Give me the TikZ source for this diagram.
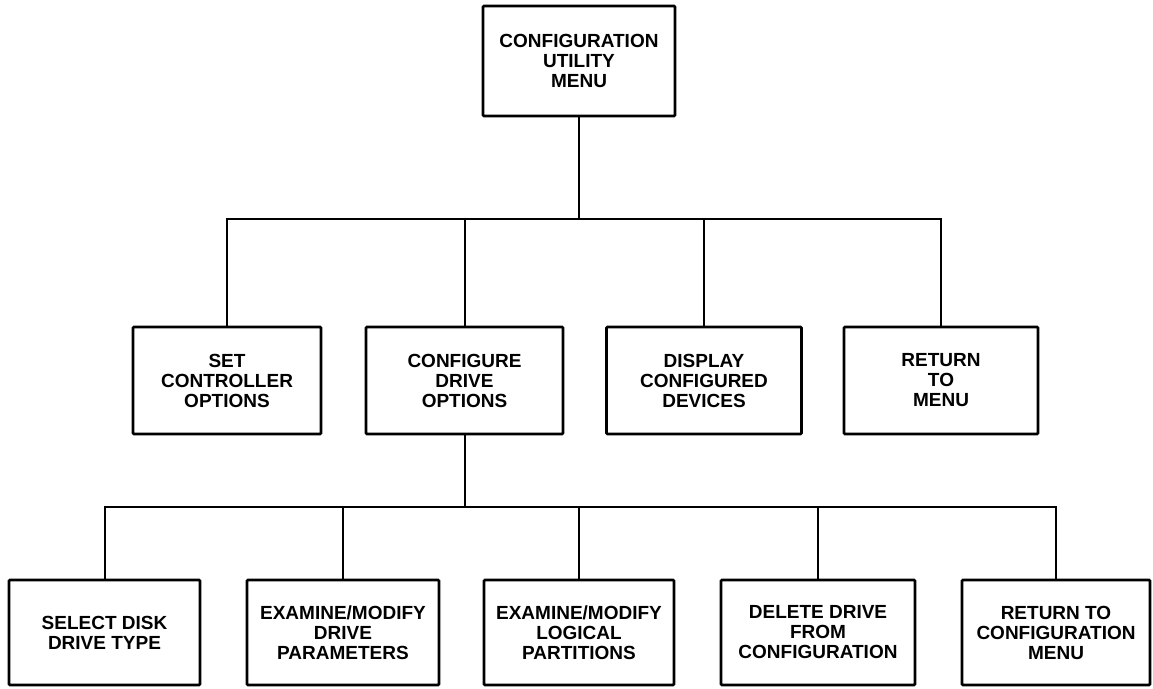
\documentclass[tikz,border=0pt]{standalone}
\usepackage{fontspec}
\setmainfont{Liberation Sans}
\usepackage{tikz}
\usetikzlibrary{positioning,calc}

\begin{document}
\begin{tikzpicture}[x=1pt, y=-1pt,
  menubox/.style={draw=black, line width=2.7pt, rounded corners=1pt, align=center,
    minimum width=192pt, minimum height=107pt, inner sep=0pt,
    font=\fontsize{19pt}{20pt}\selectfont\bfseries},
  link/.style={draw=black, line width=2pt}]
  \useasboundingbox (0,0) rectangle (1153,688);
  % top menu
  \node[menubox, minimum height=110pt] (top) at (579,61) {CONFIGURATION\\UTILITY\\MENU};
  % first level
  \node[menubox, minimum width=188pt] (setc) at (227,380.5) {SET\\CONTROLLER\\OPTIONS};
  \node[menubox, minimum width=197pt] (cfgd) at (464.5,380.5) {CONFIGURE\\DRIVE\\OPTIONS};
  \node[menubox, minimum width=195pt] (disp) at (704,380.5) {DISPLAY\\CONFIGURED\\DEVICES};
  \node[menubox, minimum width=194pt] (retm) at (941,380.5) {RETURN\\TO\\MENU};
  % second level
  \node[menubox, minimum height=105pt, minimum width=191pt] (seldt) at (104.5,632.5) {SELECT DISK\\DRIVE TYPE};
  \node[menubox, minimum height=105pt] (exdp) at (343,632.5) {EXAMINE/MODIFY\\DRIVE\\PARAMETERS};
  \node[menubox, minimum height=105pt, minimum width=190pt] (exlp) at (579,632.5) {EXAMINE/MODIFY\\LOGICAL\\PARTITIONS};
  \node[menubox, minimum height=105pt, minimum width=194pt] (deld) at (818,632.5) {DELETE DRIVE\\FROM\\CONFIGURATION};
  \node[menubox, minimum height=105pt, minimum width=188pt] (retc) at (1056,632.5) {RETURN TO\\CONFIGURATION\\MENU};
  % bus lines
  \coordinate (bus1) at (0,219);
  \coordinate (bus2) at (0,507);
  \draw[link] (top) -- (top |- bus1);
  \draw[link] (setc) |- (retm |- bus1) -- (retm);
  \draw[link] (cfgd) -- (cfgd |- bus1);
  \draw[link] (disp) -- (disp |- bus1);
  \draw[link] (cfgd) -- (cfgd |- bus2);
  \draw[link] (seldt) |- (retc |- bus2) -- (retc);
  \draw[link] (exdp) -- (exdp |- bus2);
  \draw[link] (exlp) -- (exlp |- bus2);
  \draw[link] (deld) -- (deld |- bus2);
\end{tikzpicture}
\end{document}
